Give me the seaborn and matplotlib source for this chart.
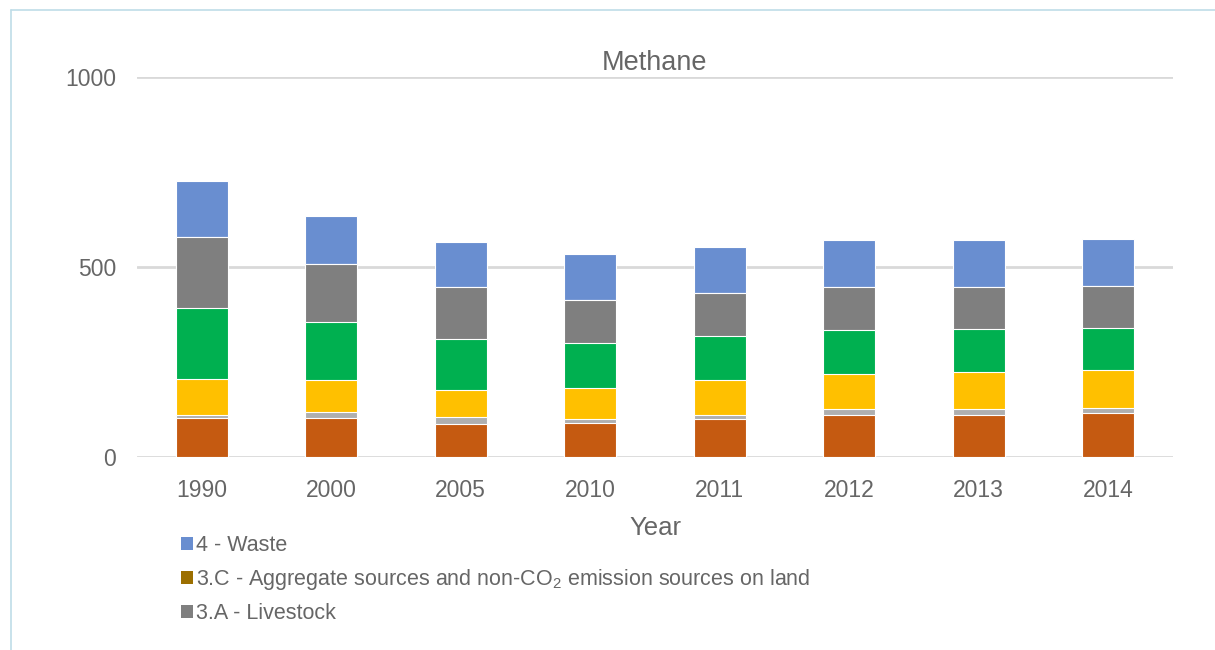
import numpy as np
import pandas as pd
import matplotlib
matplotlib.use("Agg")
import matplotlib.pyplot as plt
from matplotlib.patches import Patch
from matplotlib.lines import Line2D
import seaborn as sns

# Methane emissions by source, stacked bottom to top
years = ["1990", "2000", "2005", "2010", "2011", "2012", "2013", "2014"]
energy = [102, 102, 88, 90, 101, 110, 111, 115]
industry = [8, 16, 17, 10, 10, 16, 15, 14]
manure = [94, 84, 72, 82, 92, 93, 97, 100]
rice = [188, 153, 134, 117, 115, 114, 113, 110]
livestock = [187, 153, 136, 115, 114, 114, 111, 111]
land_3c = [0, 0, 0, 0, 0, 0, 0, 0]
waste = [147, 127, 120, 120, 121, 124, 123, 124]

series = [energy, industry, manure, rice, livestock, land_3c, waste]
colors = ["#C55A11", "#AFAFAF", "#FFC000", "#00B050", "#7F7F7F", "#9C6F00", "#698ED0"]

legend_labels = ["4 - Waste",
                 "3.C - Aggregate sources and non-CO$_2$ emission sources on land",
                 "3.A - Livestock"]
legend_colors = ["#698ED0", "#9C6F00", "#7F7F7F"]

sns.set_theme(style="white")
plt.rcParams["font.family"] = ["Liberation Sans", "DejaVu Sans"]
plt.rcParams["mathtext.fontset"] = "custom"
plt.rcParams["mathtext.rm"] = "Liberation Sans"
plt.rcParams["mathtext.it"] = "Liberation Sans"

text_color = "#666666"

fig = plt.figure(figsize=(12.15, 6.5), dpi=100)
ax = fig.add_axes([137 / 1215, 1 - 457 / 650, (1173 - 137) / 1215, (457 - 77) / 650])

# cumulative tops, drawn from the tallest layer down so each segment shows
tops = np.cumsum(np.array(series), axis=0)
for top, col in zip(tops[::-1], colors[::-1]):
    df = pd.DataFrame({"year": years, "value": top})
    sns.barplot(data=df, x="year", y="value", color=col, width=0.4,
                saturation=1, edgecolor="white", linewidth=0.8, ax=ax, zorder=3)

ax.set_ylim(0, 1000)
ax.set_xlim(-0.5, len(years) - 0.5)
ax.set_yticks([0, 500, 1000])
ax.yaxis.grid(True, color="#D9D9D9", linewidth=2, zorder=0)
ax.set_axisbelow(True)
for s in ax.spines.values():
    s.set_visible(False)
ax.tick_params(axis="both", length=0, labelsize=16.5, colors=text_color)
ax.tick_params(axis="x", pad=16)
ax.tick_params(axis="y", pad=15)
ax.set_ylabel("")
ax.set_xlabel("Year", fontsize=18.5, color=text_color, labelpad=10)
ax.set_title("Methane", fontsize=19.5, color=text_color, pad=5)

handles = [Patch(facecolor=c, edgecolor="none") for c in legend_colors]
fig.legend(handles, legend_labels, loc="upper left",
           bbox_to_anchor=(181 / 1215, 1 - 535 / 650), frameon=False,
           fontsize=15.5, labelcolor=text_color, handlelength=0.56,
           handleheight=0.56, handletextpad=0.15, labelspacing=0.52,
           borderpad=0, borderaxespad=0)

# light frame around the chart area
fig.add_artist(Line2D([11 / 1215, 1], [1 - 10 / 650, 1 - 10 / 650],
                      color="#BFDDE8", linewidth=1.2))
fig.add_artist(Line2D([11 / 1215, 11 / 1215], [0, 1 - 10 / 650],
                      color="#BFDDE8", linewidth=1.2))

fig.savefig("out.png", dpi=100, facecolor="white")
